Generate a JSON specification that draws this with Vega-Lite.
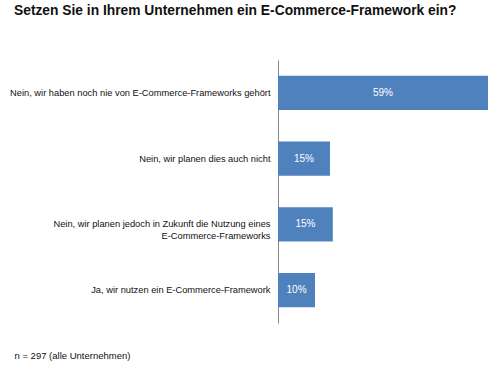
{
  "$schema": "https://vega.github.io/schema/vega-lite/v6.json",
  "width": 210,
  "height": 263,
  "autosize": "none",
  "padding": {"left": 278, "top": 60, "right": 12, "bottom": 44},
  "background": "white",
  "config": {"view": {"stroke": null}, "font": "Liberation Sans"},
  "title": {
    "text": "Setzen Sie in Ihrem Unternehmen ein E-Commerce-Framework ein?",
    "anchor": "start",
    "frame": "group",
    "dx": -264,
    "offset": 42,
    "fontSize": 13.8,
    "fontWeight": "bold",
    "font": "Liberation Sans",
    "color": "#111"
  },
  "data": {
    "values": [
      {"answer": "Nein, wir haben noch nie von E-Commerce-Frameworks gehört", "value": 59, "label": "59%"},
      {"answer": "Nein, wir planen dies auch nicht", "value": 14.6, "label": "15%"},
      {"answer": "Nein, wir planen jedoch in Zukunft die Nutzung eines|E-Commerce-Frameworks", "value": 15.4, "label": "15%"},
      {"answer": "Ja, wir nutzen ein E-Commerce-Framework", "value": 10.4, "label": "10%"}
    ]
  },
  "encoding": {
    "y": {
      "field": "answer",
      "type": "nominal",
      "sort": null,
      "scale": {"paddingInner": 0.48, "paddingOuter": 0.24},
      "axis": {
        "title": null,
        "ticks": false,
        "domainColor": "#888",
        "domainWidth": 1,
        "labelPadding": 8,
        "labelFontSize": 9.3,
        "labelColor": "#111",
        "labelLimit": 0,
        "labelLineHeight": 12,
        "labelExpr": "split(datum.label, '|')"
      }
    }
  },
  "layer": [
    {
      "mark": {"type": "bar", "color": "#4F81BD"},
      "encoding": {
        "x": {
          "field": "value",
          "type": "quantitative",
          "scale": {"domain": [0, 59], "nice": false},
          "axis": {
            "title": "n = 297 (alle Unternehmen)",
            "labels": false,
            "ticks": false,
            "domain": false,
            "grid": false,
            "titleX": -264,
            "titleY": 35,
            "titleAlign": "left",
            "titleAnchor": null,
            "titleBaseline": "alphabetic",
            "titleFontSize": 9.5,
            "titleFontWeight": "normal",
            "titleColor": "#111"
          }
        }
      }
    },
    {
      "transform": [{"calculate": "datum.value / 2", "as": "mid"}],
      "mark": {"type": "text", "color": "white", "fontSize": 10, "baseline": "middle", "align": "center"},
      "encoding": {
        "x": {"field": "mid", "type": "quantitative"},
        "text": {"field": "label"}
      }
    }
  ]
}
